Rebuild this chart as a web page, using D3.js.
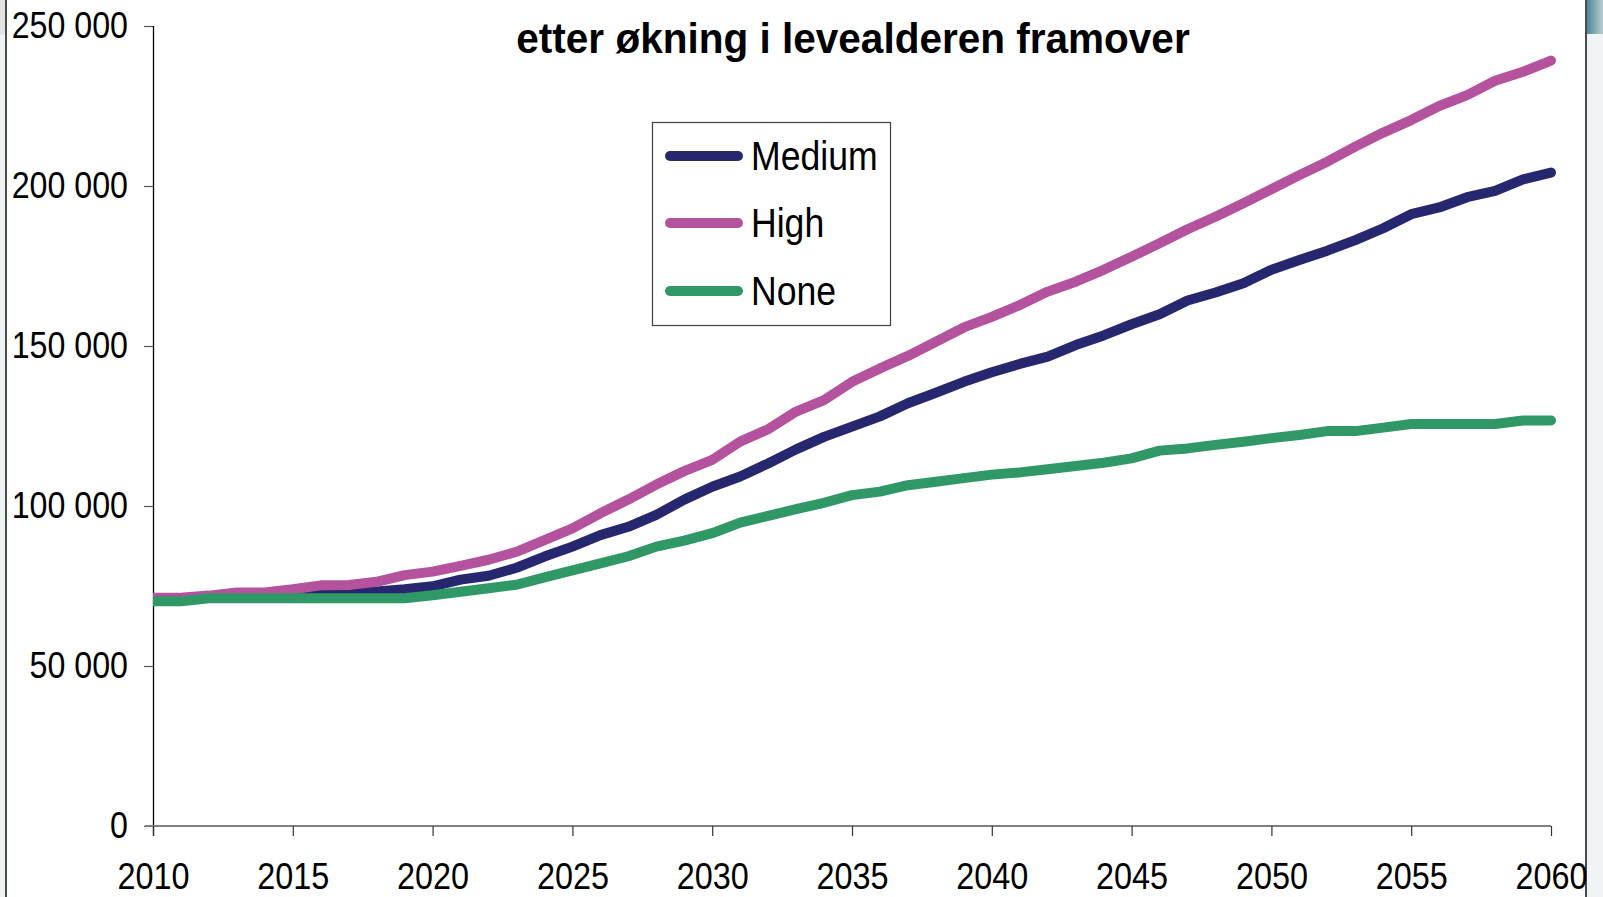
<!DOCTYPE html>
<html>
<head>
<meta charset="utf-8">
<script src="https://cdn.jsdelivr.net/npm/d3@7"></script>
<style>
  html, body { margin: 0; padding: 0; background: #f0f4f4; }
  svg { display: block; }
  text { font-family: "Liberation Sans", Arial, sans-serif; }
</style>
</head>
<body>
<svg id="chart" width="1603" height="897"></svg>
<script>
const years = d3.range(2010, 2061);
const seriesNames = ["Medium", "High", "None"];
const seriesColors = ["#27276f", "#b4529e", "#2f9866"];
const medium = [70800, 70800, 71500, 71800, 71800, 72300, 72600, 72800, 73300, 74000,
  74900, 77000, 78200, 80700, 84200, 87300, 90900, 93500, 97200, 102000,
  106000, 109200, 113300, 117700, 121600, 124800, 128000, 132100, 135400, 138800,
  141800, 144400, 146700, 150300, 153300, 156800, 159900, 164200, 166700, 169600,
  173800, 176900, 179800, 183100, 186800, 191200, 193300, 196500, 198500, 202100, 204200];
const high = [71300, 71300, 72000, 73000, 73000, 74000, 75200, 75300, 76300, 78400,
  79500, 81300, 83200, 85700, 89300, 93000, 97700, 102000, 106700, 110900,
  114400, 120100, 124000, 129500, 133100, 138800, 143000, 146900, 151300, 155800,
  159100, 162800, 167000, 170100, 173800, 177900, 182100, 186500, 190400, 194600,
  199000, 203400, 207600, 212300, 216700, 220600, 225000, 228400, 232900, 235700, 239200];
const none = [70200, 70200, 71200, 71200, 71200, 71200, 71200, 71200, 71200, 71200,
  72100, 73200, 74300, 75400, 77700, 79900, 82100, 84300, 87300, 89200,
  91500, 94800, 96900, 99000, 101000, 103400, 104500, 106500, 107600, 108700,
  109800, 110500, 111500, 112500, 113500, 114900, 117300, 118000, 119100, 120100,
  121200, 122200, 123400, 123400, 124500, 125600, 125600, 125600, 125600, 126700, 126700];
const yTicks = [0, 50000, 100000, 150000, 200000, 250000];
const xTicks = [2010, 2015, 2020, 2025, 2030, 2035, 2040, 2045, 2050, 2055, 2060];
const titleLine2 = "etter økning i levealderen framover";

const seriesValues = [medium, high, none];

const svg = d3.select("#chart");

// background panel
svg.append("rect").attr("x", 0).attr("y", 0).attr("width", 1603).attr("height", 897).attr("fill", "#f0f4f4");
svg.append("rect").attr("x", 0).attr("y", 0).attr("width", 14).attr("height", 35).attr("fill", "#e4e6e6");
const defs = svg.append("defs");
const grad = defs.append("linearGradient").attr("id", "tealgrad").attr("x1", "0").attr("x2", "1").attr("y1", "0").attr("y2", "0");
grad.append("stop").attr("offset", "0").attr("stop-color", "#4f8796");
grad.append("stop").attr("offset", "1").attr("stop-color", "#b9d0d5");
svg.append("rect").attr("x", 1587).attr("y", 0).attr("width", 16).attr("height", 34).attr("fill", "url(#tealgrad)");
svg.append("rect").attr("x", 6).attr("y", 0).attr("width", 1580).attr("height", 897).attr("fill", "#ffffff");
svg.append("line").attr("x1", 6).attr("x2", 6).attr("y1", 0).attr("y2", 897).attr("stroke", "#4a4a4a").attr("stroke-width", 2);
svg.append("line").attr("x1", 1586).attr("x2", 1586).attr("y1", 0).attr("y2", 897).attr("stroke", "#4a4a4a").attr("stroke-width", 2);

const x = d3.scaleLinear().domain([2010, 2060]).range([153, 1551]);
const y = d3.scaleLinear().domain([0, 250000]).range([826, 26]);

const loc = d3.formatLocale({ thousands: " ", grouping: [3], decimal: ",", currency: ["", ""] });
const fmt = loc.format(",d");

// Y axis
const yAxis = svg.append("g").attr("transform", "translate(153,0)")
  .call(d3.axisLeft(y).tickValues(yTicks).tickFormat(fmt).tickSize(9).tickPadding(16));
yAxis.select(".domain").attr("stroke", "#000").attr("stroke-width", 1.3)
  .attr("d", "M0.5,26V836");
yAxis.selectAll(".tick line").attr("stroke", "#555").attr("stroke-width", 1.2);
yAxis.selectAll(".tick text")
  .attr("font-size", 37).attr("fill", "#000").attr("dy", "0.3em")
  .attr("transform", "translate(-25,0) scale(0.87,1) translate(25,0)");

// X axis
const xAxis = svg.append("g").attr("transform", "translate(0,826)")
  .call(d3.axisBottom(x).tickValues(xTicks).tickFormat(d3.format("d")).tickSize(10));
xAxis.select(".domain").attr("stroke", "#808080").attr("stroke-width", 2.2)
  .attr("d", "M145,0H1551");
xAxis.selectAll(".tick line").attr("stroke", "#333").attr("stroke-width", 1.2);
xAxis.selectAll(".tick text")
  .attr("font-size", 37).attr("fill", "#000").attr("y", 63).attr("dy", 0)
  .attr("transform", "scale(0.875,1)");

// Lines
defs.append("clipPath").attr("id", "plotclip").append("rect")
  .attr("x", 153).attr("y", 0).attr("width", 1420).attr("height", 897);
const line = d3.line().x((d, i) => x(years[i])).y(d => y(d));
const lg = svg.append("g").attr("clip-path", "url(#plotclip)");
seriesValues.forEach((vals, si) => {
  lg.append("path").datum(vals)
    .attr("d", line)
    .attr("fill", "none")
    .attr("stroke", seriesColors[si])
    .attr("stroke-width", 10)
    .attr("stroke-linejoin", "round")
    .attr("stroke-linecap", "round");
});

// Title (second line visible)
svg.append("text")
  .attr("x", 853).attr("y", 53)
  .attr("text-anchor", "middle")
  .attr("font-size", 42).attr("font-weight", "bold").attr("fill", "#000")
  .attr("transform", "translate(853,0) scale(0.965,1) translate(-853,0)")
  .text(titleLine2);

// Legend
const legend = svg.append("g");
legend.append("rect").attr("x", 652.5).attr("y", 122.5).attr("width", 238).attr("height", 203)
  .attr("fill", "#fff").attr("stroke", "#404040").attr("stroke-width", 1.2);
const rowY = [156, 223, 291];
seriesNames.forEach((name, i) => {
  legend.append("line").attr("x1", 670).attr("x2", 738).attr("y1", rowY[i]).attr("y2", rowY[i])
    .attr("stroke", seriesColors[i]).attr("stroke-width", 10).attr("stroke-linecap", "round");
  legend.append("text").attr("x", 751).attr("y", rowY[i] + 14)
    .attr("font-size", 40).attr("fill", "#000")
    .attr("transform", "translate(751,0) scale(0.89,1) translate(-751,0)")
    .text(name);
});
</script>
</body>
</html>
